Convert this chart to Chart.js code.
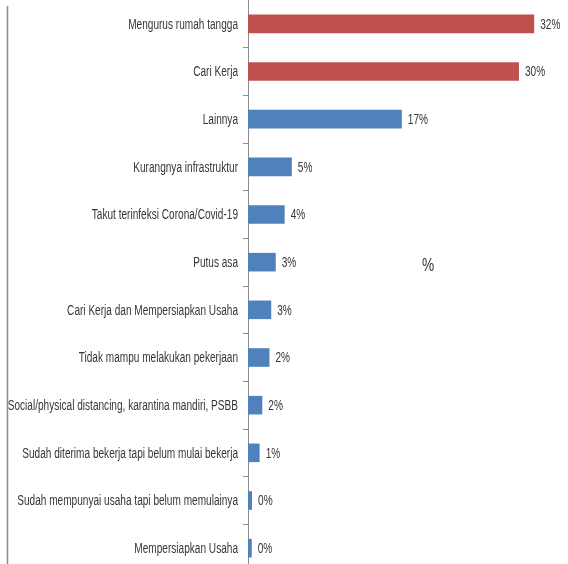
<!DOCTYPE html>
<html>
<head>
<meta charset="utf-8">
<script src="https://cdn.jsdelivr.net/npm/chart.js@4/dist/chart.umd.min.js"></script>
<style>
  html, body { margin: 0; padding: 0; background: #fff; overflow: hidden; }
  #wrap { position: relative; width: 568px; height: 572px; }
</style>
</head>
<body>
<div id="wrap"><canvas id="myChart"></canvas></div>
<script>
// Categories (top to bottom) and their percentages
var categories = [
  "Mengurus rumah tangga",
  "Cari Kerja",
  "Lainnya",
  "Kurangnya infrastruktur",
  "Takut terinfeksi Corona/Covid-19",
  "Putus asa",
  "Cari Kerja dan Mempersiapkan Usaha",
  "Tidak mampu melakukan pekerjaan",
  "Social/physical distancing, karantina mandiri, PSBB",
  "Sudah diterima bekerja tapi belum mulai bekerja",
  "Sudah mempunyai usaha tapi belum memulainya",
  "Mempersiapkan Usaha"
];
var percentages = [32.0, 30.3, 17.2, 4.9, 4.1, 3.1, 2.6, 2.4, 1.6, 1.3, 0.45, 0.42];
// first two bars are highlighted red
var highlighted = [true, true, false, false, false, false, false, false, false, false, false, false];
var axisTitle = "%";

var barColors = highlighted.map(function (h) { return h ? "#C0504D" : "#4F81BD"; });

// the original text is a tall, narrow face; squeeze a normal sans horizontally
var SQUEEZE = 0.72;
var TEXT_COLOR = "#363636";

function narrowText(ctx, text, x, y, align) {
  ctx.save();
  ctx.translate(x, y);
  ctx.scale(SQUEEZE, 1);
  ctx.textAlign = align;
  ctx.fillText(text, 0, 0);
  ctx.restore();
}

// draws category labels, value labels, the floating "%" and the left frame line
var extrasPlugin = {
  id: "extras",
  afterDraw: function (chart) {
    var ctx = chart.ctx;
    var meta = chart.getDatasetMeta(0);
    var yScale = chart.scales.y;
    var area = chart.chartArea;
    ctx.save();
    ctx.fillStyle = TEXT_COLOR;
    ctx.textBaseline = "middle";
    ctx.font = "14px 'Liberation Sans', Arial, sans-serif";
    // category labels to the left of the axis
    categories.forEach(function (label, i) {
      narrowText(ctx, label, area.left - 10, yScale.getPixelForTick(i) + 1, "right");
    });
    // value labels at bar ends
    meta.data.forEach(function (bar, i) {
      narrowText(ctx, Math.round(percentages[i]) + "%", bar.x + 6, bar.y + 1, "left");
    });
    // floating axis title
    ctx.font = "19px 'Liberation Sans', Arial, sans-serif";
    narrowText(ctx, axisTitle, area.left + (area.right - area.left) * 0.575, area.top + (area.bottom - area.top) * 0.465, "center");
    // left frame line
    ctx.strokeStyle = "#8c8c8c";
    ctx.lineWidth = 1.5;
    ctx.beginPath();
    ctx.moveTo(7.5, area.top + 6);
    ctx.lineTo(7.5, chart.height);
    ctx.stroke();
    ctx.restore();
  }
};

var ctx = document.getElementById("myChart");
var myChart = new Chart(ctx, {
  type: "bar",
  data: {
    labels: categories,
    datasets: [
      {
        data: percentages,
        backgroundColor: barColors,
        borderWidth: 0,
        barPercentage: 0.39,
        categoryPercentage: 1.0
      }
    ]
  },
  options: {
    indexAxis: "y",
    responsive: true,
    maintainAspectRatio: false,
    animation: false,
    layout: { padding: { top: 0, right: 7, bottom: 0, left: 0 } },
    plugins: {
      legend: { display: false },
      tooltip: { enabled: false }
    },
    scales: {
      x: {
        display: false,
        min: 0,
        max: 35
      },
      y: {
        offset: true,
        afterFit: function (scale) { scale.width = 248; },
        border: { display: true, color: "#8c8c8c", width: 1 },
        grid: {
          offset: true,
          drawOnChartArea: false,
          drawTicks: true,
          tickLength: 5,
          color: "#8c8c8c"
        },
        ticks: { display: false }
      }
    }
  },
  plugins: [extrasPlugin]
});
</script>
</body>
</html>
